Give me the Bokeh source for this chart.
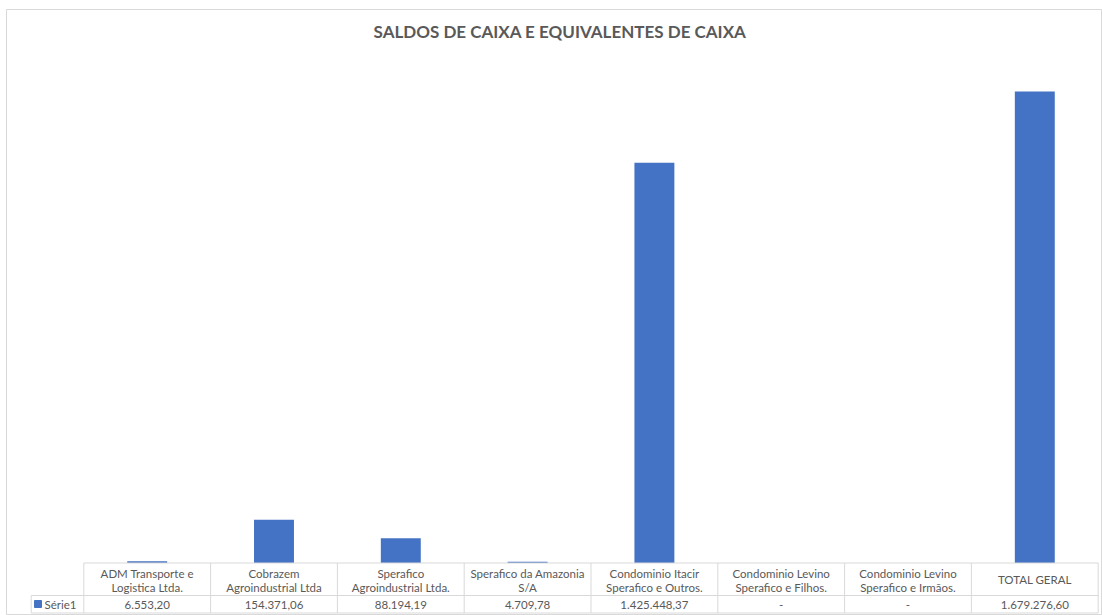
from bokeh.plotting import figure
from bokeh.models import Range1d, ColumnDataSource
from bokeh.core.properties import value
from bokeh.embed import file_html
from bokeh.resources import INLINE

title = "SALDOS DE CAIXA E EQUIVALENTES DE CAIXA"
series_name = "Série1"
cat_line1 = ["ADM Transporte e", "Cobrazem", "Sperafico", "Sperafico da Amazonia",
             "Condominio Itacir", "Condominio Levino", "Condominio Levino", ""]
cat_line2 = ["Logistica Ltda.", "Agroindustrial Ltda", "Agroindustrial Ltda.", "S/A",
             "Sperafico e Outros.", "Sperafico e Filhos.", "Sperafico e Irmãos.", ""]
cat_single = ["", "", "", "", "", "", "", "TOTAL GERAL"]
values = [6553.20, 154371.06, 88194.19, 4709.78, 1425448.37, 0.0, 0.0, 1679276.60]


def fmt(v):
    if v == 0:
        return "-"
    s = f"{v:,.2f}"
    return s.replace(",", "X").replace(".", ",").replace("X", ".")


W, H = 1102, 615
FL, FT = 6, 9       # frame left / top offset (chart border)
COL0 = 83.3         # x of first table column
COLW = 126.8        # column width in px
BASE = 562.5        # y of zero baseline
PX_PER_M = 280.8    # px per million


def dx(px):
    return (px - COL0) / COLW


def dy(py):
    return (BASE - py) * 1e6 / PX_PER_M


n = len(values)
xs = [i + 0.5 for i in range(n)]

p = figure(width=W, height=H, output_backend="svg", toolbar_location=None,
           x_range=Range1d(dx(FL), dx(W)),
           y_range=Range1d(dy(H), dy(FT)),
           x_axis_location=None, y_axis_location=None,
           min_border_left=FL, min_border_top=FT, min_border_right=0, min_border_bottom=0,
           background_fill_color="white", border_fill_color="white",
           outline_line_color="#d9d9d9", tools="")
p.xgrid.visible = False
p.ygrid.visible = False

src = ColumnDataSource(dict(x=xs, top=values, l1=cat_line1, l2=cat_line2,
                            s=cat_single, lab=[fmt(v) for v in values]))

p.vbar(x="x", top="top", bottom=0, width=0.315, source=src,
       fill_color="#4472C4", line_color=None)

grid_col = "#d9d9d9"
txt_col = "#595959"
y_top = 0
y_mid = dy(595)
y_bot = dy(612.5)
x_leg = dx(30.7)

# table horizontal lines
p.segment(x0=[0, x_leg, x_leg], x1=[n, n, n], y0=[y_top, y_mid, y_bot],
          y1=[y_top, y_mid, y_bot], line_color=grid_col, line_width=1)
# table vertical lines
p.segment(x0=list(range(n + 1)), x1=list(range(n + 1)),
          y0=[y_top] * (n + 1), y1=[y_bot] * (n + 1), line_color=grid_col, line_width=1)
p.segment(x0=[x_leg], x1=[x_leg], y0=[y_mid], y1=[y_bot], line_color=grid_col, line_width=1)

font = value("Lato")
fs = "11.5px"
p.text(x="x", y=dy(572.7), text="l1", source=src, text_font=font, text_font_size=fs,
       text_color=txt_col, text_align="center", text_baseline="middle")
p.text(x="x", y=dy(586.7), text="l2", source=src, text_font=font, text_font_size=fs,
       text_color=txt_col, text_align="center", text_baseline="middle")
p.text(x="x", y=dy(579), text="s", source=src, text_font=font, text_font_size=fs,
       text_color=txt_col, text_align="center", text_baseline="middle")
p.text(x="x", y=dy(604), text="lab", source=src, text_font=font, text_font_size=fs,
       text_color=txt_col, text_align="center", text_baseline="middle")

# legend key in table
p.scatter(x=[dx(37.5)], y=[dy(603.5)], marker="square", size=7,
          fill_color="#4472C4", line_color="#4472C4")
p.text(x=[dx(44)], y=[dy(604)], text=[series_name], text_font=font, text_font_size=fs,
       text_color=txt_col, text_align="left", text_baseline="middle")

# chart title
p.text(x=[dx(559.5)], y=[dy(31)], text=[title], text_font=font, text_font_style="bold",
       text_font_size="17px", text_color=txt_col, text_align="center",
       text_baseline="middle")

open("out.html", "w").write(file_html(p, INLINE))
